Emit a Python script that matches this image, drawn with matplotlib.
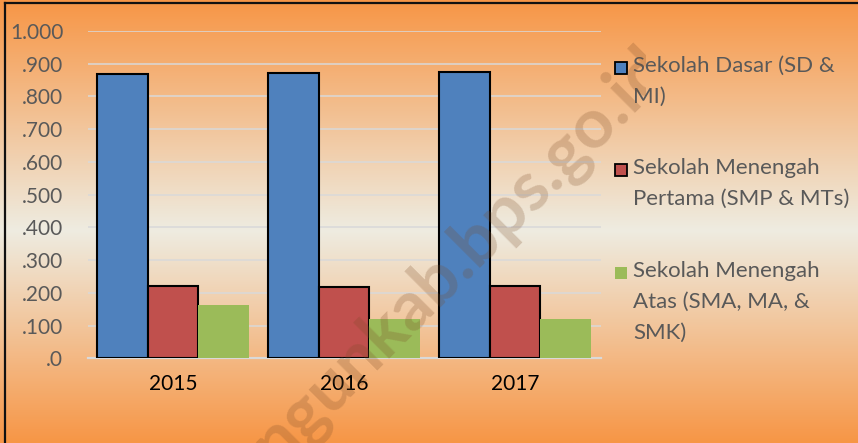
import numpy as np
import matplotlib
matplotlib.use("Agg")
import matplotlib.pyplot as plt
from matplotlib.lines import Line2D
from matplotlib.patches import Rectangle
from matplotlib.colors import LinearSegmentedColormap
from matplotlib.transforms import Bbox, TransformedBbox

# ---- data ----
years = ["2015", "2016", "2017"]
series_names = ["Sekolah Dasar (SD &\nMI)",
                "Sekolah Menengah\nPertama (SMP & MTs)",
                "Sekolah Menengah\nAtas (SMA, MA, &\nSMK)"]
sd_values = [0.868, 0.871, 0.874]
smp_values = [0.221, 0.219, 0.221]
sma_values = [0.162, 0.119, 0.119]
ytick_values = [0.0, 0.1, 0.2, 0.3, 0.4, 0.5, 0.6, 0.7, 0.8, 0.9, 1.0]
ytick_labels = [".0", ".100", ".200", ".300", ".400", ".500", ".600",
                ".700", ".800", ".900", "1.000"]
watermark = "ngunkab.bps.go.id"

colors = ["#4F81BD", "#C0504D", "#9BBB59"]
edges = ["black", "black", "none"]

plt.rcParams['font.family'] = ['Lato', 'DejaVu Sans']

W, H = 858, 443
fig = plt.figure(figsize=(W / 100, H / 100), dpi=100)

# background gradient
bg = fig.add_axes([0, 0, 1, 1], zorder=-10)
cmap = LinearSegmentedColormap.from_list(
    "bg", [(0.0, "#F79646"), (0.52, "#EEECE1"), (1.0, "#F79646")])
grad = np.linspace(0, 1, 512).reshape(-1, 1)
bg.imshow(grad, aspect="auto", cmap=cmap, extent=[0, 1, 0, 1], origin="upper")
bg.set_axis_off()

# border lines
fig.add_artist(Line2D([5 / W, 5 / W], [0, 1 - 2.5 / H], transform=fig.transFigure,
                      color="#111111", lw=1.6))
fig.add_artist(Line2D([5 / W, 1], [1 - 2.5 / H, 1 - 2.5 / H], transform=fig.transFigure,
                      color="#111111", lw=1.6))

left, right = 87.5 / W, 600.5 / W
bottom, top = 1 - 358.3 / H, 1 - 31 / H
ax = fig.add_axes([left, bottom, right - left, top - bottom], zorder=1)
ax.set_facecolor("none")

x = np.arange(len(years))
bw = 0.296
all_vals = [sd_values, smp_values, sma_values]
for i, vals in enumerate(all_vals):
    ax.bar(x + (i - 1) * bw, vals, width=bw, color=colors[i],
           edgecolor=edges[i], linewidth=1.5, zorder=3)

ax.set_xlim(-0.5, len(years) - 0.5)
ax.set_ylim(0, 1.0)
ax.set_yticks(ytick_values)
ax.set_yticklabels(ytick_labels)
ax.set_xticks(x)
ax.set_xticklabels(years)
ax.tick_params(axis="y", length=0, pad=17.5, labelsize=15, labelcolor="#595959")
ax.tick_params(axis="x", length=0, pad=11, labelsize=15, labelcolor="black")
ax.grid(axis="y", color="#D9D9D9", linewidth=1.1, zorder=0)
ax.set_axisbelow(True)
for s in ["top", "right", "left"]:
    ax.spines[s].set_visible(False)
ax.spines["bottom"].set_color("#D9D9D9")
ax.spines["bottom"].set_linewidth(1.6)
ax.spines["bottom"].set_zorder(2)

# legend (manual, Excel style)
leg_tops = [68, 170, 273]
for i, name in enumerate(series_names):
    yc = 1 - leg_tops[i] / H
    fig.add_artist(Rectangle((615 / W, yc - 6 / H), 12 / W, 12 / H,
                             transform=fig.transFigure, facecolor=colors[i],
                             edgecolor=edges[i], linewidth=1.3, zorder=5))
    fig.text(633 / W, 1 - (leg_tops[i] - 12) / H, name, ha="left", va="top",
             fontsize=16, color="#595959", linespacing=1.68, zorder=5)

# watermark (partially visible, clipped like the reference image)
wm = fig.text(461 / W, 1 - 256 / H, watermark, rotation=45, rotation_mode="anchor",
              ha="center", va="center", fontsize=50, fontweight="bold",
              color="#7A4A25", alpha=0.24, zorder=20)
wm.set_clip_box(TransformedBbox(Bbox([[0, 0], [646 / W, 1]]), fig.transFigure))
wm.set_clip_on(True)

fig.savefig("out.png", dpi=100)
